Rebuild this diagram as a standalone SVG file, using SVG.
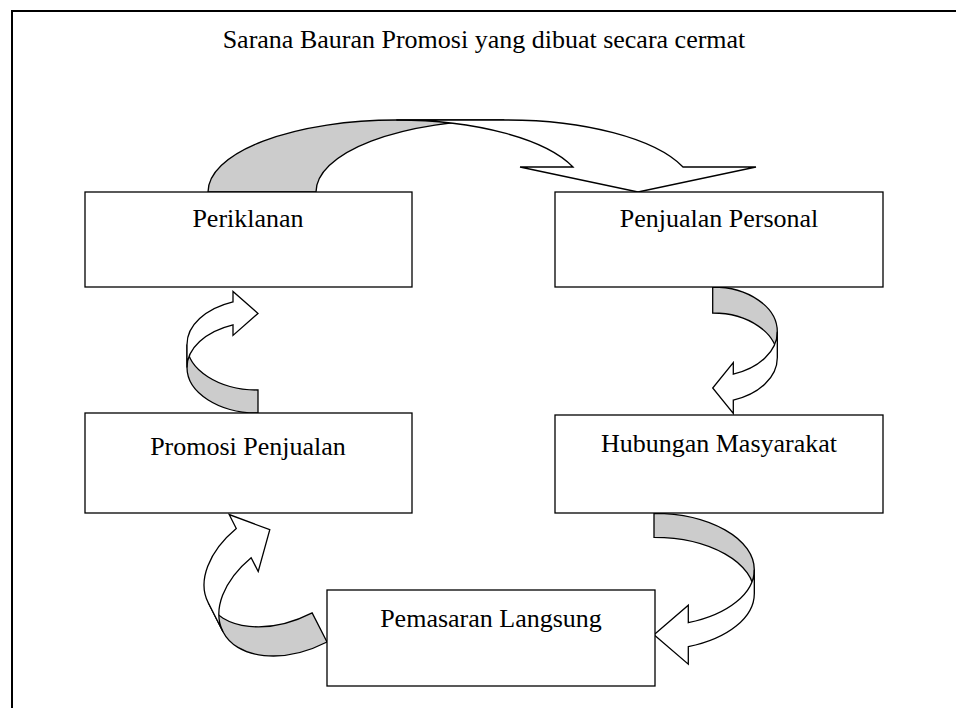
<svg xmlns="http://www.w3.org/2000/svg" width="956" height="708" viewBox="0 0 956 708">
<style>
.box{fill:#fff;stroke:#000;stroke-width:1.3}
.lbl{font-family:"Liberation Serif","Times New Roman",serif;font-size:26px;fill:#000;text-anchor:middle}
.back{fill:#cccccc;stroke:#000;stroke-width:1.3;stroke-linejoin:miter}
.front{fill:#fff;stroke:#000;stroke-width:1.3;stroke-linejoin:miter}
</style>
<rect x="0" y="0" width="956" height="708" fill="#fff"/>
<path d="M12,720 V11 H970" fill="none" stroke="#000" stroke-width="2"/>
<text class="lbl" x="484" y="48">Sarana Bauran Promosi yang dibuat secara cermat</text>

<g id="connectors">
  <g id="arrow-periklanan-penjualan">
    <path class="back" d="M208,192 A188.3,72 0 0 1 396.3,120 L504.3,120 A188.3,72 0 0 0 316,192 Z"/>
    <path class="front" d="M396.3,120 A188.3,72 0 0 1 573,167 L520,167 L638,192 L756,167 L683,167 A188.3,72 0 0 0 504.3,120 Z"/>
  </g>
  <g id="arrow-penjualan-hubungan" transform="translate(712.7,287) rotate(180)">
    <path class="back" d="M0,0 A64.6,44.7 0 0 1 -64.6,-44.7 L-64.6,-70.7 A64.6,44.7 0 0 0 0,-26 Z"/>
    <path class="front" d="M-64.6,-44.7 A64.6,44.7 0 0 1 -20.6,-87.1 L-20.6,-75.5 L0,-101 L-20.6,-126.5 L-20.6,-113.1 A64.6,44.7 0 0 0 -64.6,-70.7 Z"/>
  </g>
  <g id="arrow-hubungan-pemasaran" transform="translate(654,513.3) rotate(180)">
    <path class="back" d="M0,0 A100.3,56.4 0 0 1 -100.3,-56.4 L-100.3,-80.4 A100.3,56.4 0 0 0 0,-24 Z"/>
    <path class="front" d="M-100.3,-56.4 A100.3,56.4 0 0 1 -34.3,-109.4 L-34.3,-91.9 L0,-121.4 L-34.3,-150.9 L-34.3,-133.4 A100.3,56.4 0 0 0 -100.3,-80.4 Z"/>
  </g>
  <g id="arrow-pemasaran-promosi" transform="translate(327,642) rotate(-27)">
    <path class="back" d="M0,0 A88,56.4 0 0 1 -88,-56.4 L-88,-89.1 A88,56.4 0 0 0 0,-32.7 Z"/>
    <path class="front" d="M-88,-56.4 A88,56.4 0 0 1 -29.3,-109.6 L-29.3,-94 L0,-126 L-29.3,-158 L-29.3,-142.3 A88,56.4 0 0 0 -88,-89.1 Z"/>
  </g>
  <g id="arrow-promosi-periklanan" transform="translate(258,413)">
    <path class="back" d="M0,0 A71,45.5 0 0 1 -71,-45.5 L-71,-68.5 A71,45.5 0 0 0 0,-23 Z"/>
    <path class="front" d="M-71,-45.5 A71,45.5 0 0 1 -25,-88.1 L-25,-77.6 L0,-99.6 L-25,-121.6 L-25,-111.1 A71,45.5 0 0 0 -71,-68.5 Z"/>
  </g>
</g>

<g id="periklanan">
  <rect class="box" x="85" y="192" width="327" height="95"/>
  <text class="lbl" x="248" y="227">Periklanan</text>
</g>
<g id="penjualan-personal">
  <rect class="box" x="555" y="192" width="328" height="95"/>
  <text class="lbl" x="719" y="227">Penjualan Personal</text>
</g>
<g id="promosi-penjualan">
  <rect class="box" x="85" y="413" width="327" height="100"/>
  <text class="lbl" x="248" y="455">Promosi Penjualan</text>
</g>
<g id="hubungan-masyarakat">
  <rect class="box" x="555" y="415" width="328" height="98"/>
  <text class="lbl" x="719" y="452">Hubungan Masyarakat</text>
</g>
<g id="pemasaran-langsung">
  <rect class="box" x="327" y="590" width="328" height="96"/>
  <text class="lbl" x="491" y="627">Pemasaran Langsung</text>
</g>
</svg>
